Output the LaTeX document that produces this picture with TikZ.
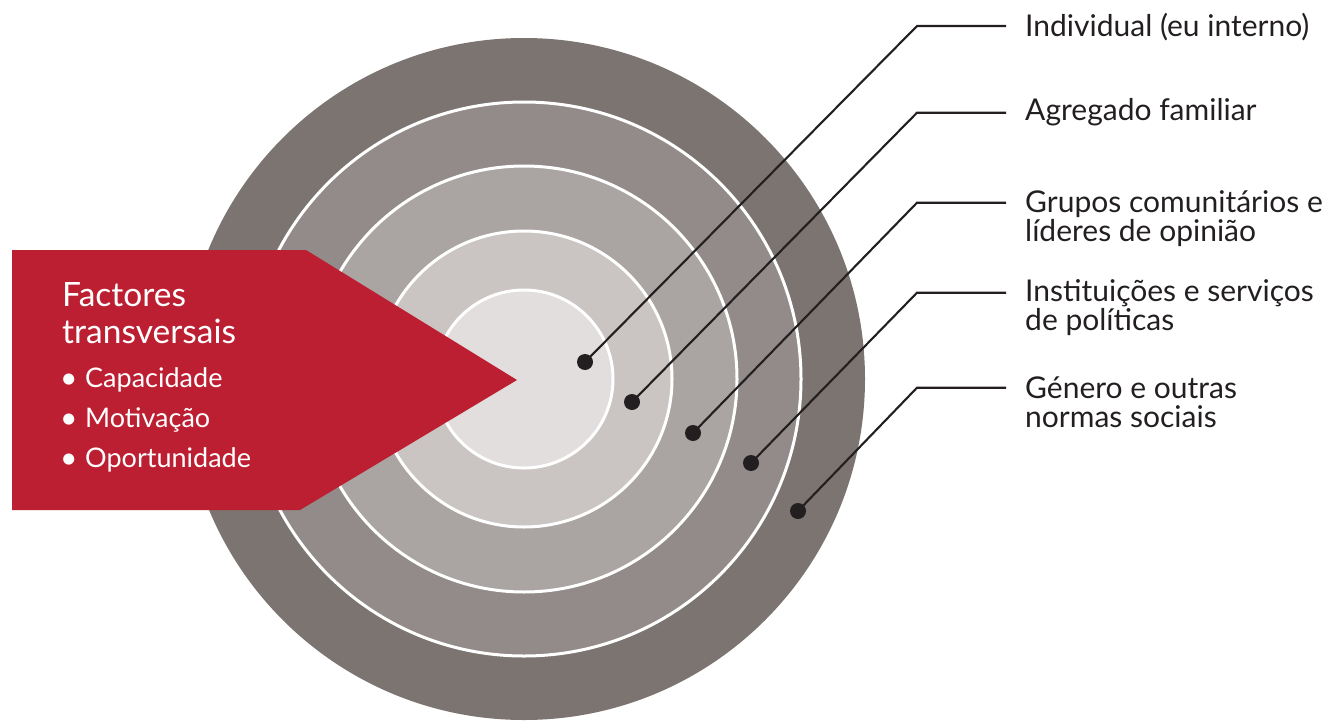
\documentclass[tikz,border=0pt]{standalone}
\usepackage{fontspec}
\setmainfont{Lato}
\definecolor{ringA}{HTML}{7B7471}
\definecolor{ringB}{HTML}{928B89}
\definecolor{ringC}{HTML}{AAA5A2}
\definecolor{ringD}{HTML}{CAC5C3}
\definecolor{ringE}{HTML}{E1DEDD}
\definecolor{factred}{HTML}{BC1F31}
\definecolor{inkdark}{HTML}{231F20}
\tikzset{
  ringline/.style={draw=white, line width=3pt},
  lbl/.style={anchor=base west, inner sep=0pt, align=left, text=inkdark, font=\fontsize{30}{29}\selectfont},
  ttl/.style={anchor=base west, inner sep=0pt, align=left, text=white, font=\fontsize{33.5}{37}\selectfont},
  bul/.style={anchor=base west, inner sep=0pt, text=white, font=\fontsize{27}{30}\selectfont},
  bulmark/.style={anchor=base west, inner sep=0pt, text=white, font=\fontsize{30}{30}\selectfont},
  dotmark/.style={circle, fill=inkdark, inner sep=0pt, minimum size=16pt},
  leader/.style={draw=inkdark, line width=2.1pt}
}
\begin{document}
\begin{tikzpicture}[x=1pt,y=-1pt]
\useasboundingbox (0,0) rectangle (1341,723);
\coordinate (ctr) at (524,379);
% rings
\fill[ringA] (ctr) circle (341);
\filldraw[fill=ringB, ringline] (ctr) circle (277);
\filldraw[fill=ringC, ringline] (ctr) circle (213);
\filldraw[fill=ringD, ringline] (ctr) circle (148);
\filldraw[fill=ringE, ringline] (ctr) circle (89);
% red arrow
\fill[factred] (12,250) -- (306,250) -- (517,380) -- (300,510) -- (12,510) -- cycle;
\node[ttl] (ttl) at (62,343.7) {Factores\\transversais};
\node[bulmark] (b1) at (60,388) {•};
\node[bul] (c1) at (85,387) {Capacidade};
\node[bulmark] (b2) at (60,428) {•};
\node[bul] (c2) at (85,427) {Motivação};
\node[bulmark] (b3) at (60,468) {•};
\node[bul] (c3) at (85,467) {Oportunidade};
% labels
\node[lbl] (l1) at (1025,36) {Individual (eu interno)};
\node[lbl] (l2) at (1025,120) {Agregado familiar};
\node[lbl] (l3) at (1025,241.7) {Grupos comunitários e\\líderes de opinião};
\node[lbl] (l4) at (1025,330.7) {Instituições e serviços\\de políticas};
\node[lbl] (l5) at (1025,427.3) {Género e outras\\normas sociais};
% dots
\node[dotmark] (d1) at (585,362) {};
\node[dotmark] (d2) at (632,402) {};
\node[dotmark] (d3) at (693,433) {};
\node[dotmark] (d4) at (751,463) {};
\node[dotmark] (d5) at (798,511) {};
% leader coordinates
\coordinate (k1) at (917,26);
\coordinate (k2) at (917,112.7);
\coordinate (k3) at (917,202.7);
\coordinate (k4) at (917,292.7);
\coordinate (k5) at (917,387.7);
\coordinate (e1) at (1006,26);
\coordinate (e2) at (1006,112.7);
\coordinate (e3) at (1006,202.7);
\coordinate (e4) at (1006,292.7);
\coordinate (e5) at (1006,387.7);
\draw[leader] (d1.center) -- (k1) -- (e1);
\draw[leader] (d2.center) -- (k2) -- (e2);
\draw[leader] (d3.center) -- (k3) -- (e3);
\draw[leader] (d4.center) -- (k4) -- (e4);
\draw[leader] (d5.center) -- (k5) -- (e5);
\end{tikzpicture}
\end{document}
